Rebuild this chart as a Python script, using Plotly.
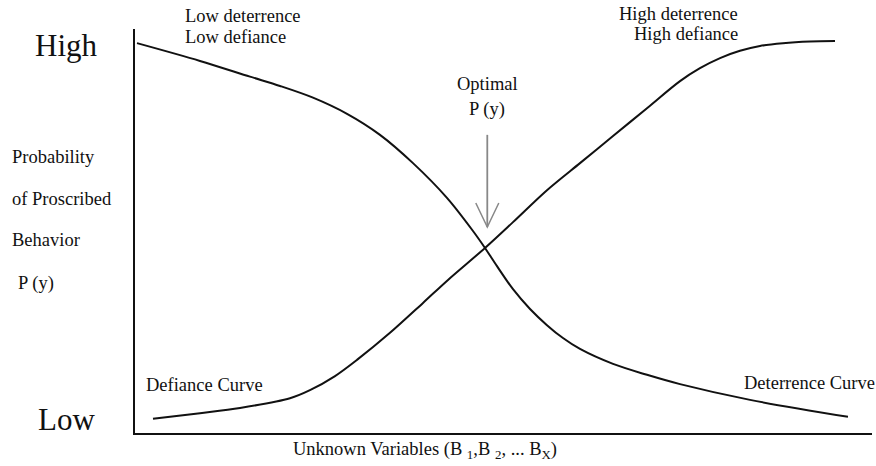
import plotly.graph_objects as go

# Data (x: unknown variables, 0-100; y: probability of proscribed behavior, 0-100)
deterrence_x = [0.27, 8.82, 15.60, 19.67, 24.15, 28.77, 33.24, 37.72, 42.33, 45.86, 47.49,
                49.12, 51.29, 53.60, 55.90, 58.07, 60.38, 64.86, 69.47, 73.95, 83.45, 96.74]
deterrence_y = [96.5, 92.1, 88.2, 85.9, 83.0, 79.0, 73.8, 66.8, 58.2, 50.0, 45.8,
                41.3, 35.6, 30.7, 26.7, 23.5, 20.8, 17.1, 14.4, 12.1, 8.2, 4.0]

defiance_x = [2.44, 8.82, 14.25, 21.03, 23.74, 27.14, 30.12, 34.60, 39.08, 42.47, 47.49,
              51.29, 55.90, 60.38, 64.86, 69.47, 73.95, 76.66, 79.38, 82.09, 84.80,
              87.92, 91.59, 94.98]
defiance_y = [3.5, 4.9, 6.2, 8.6, 10.6, 14.1, 18.1, 24.8, 32.2, 37.9, 45.8,
              52.2, 60.1, 66.8, 73.5, 80.4, 87.1, 90.3, 92.8, 94.6, 95.8,
              96.5, 96.9, 97.0]

optimal_x = 47.8
optimal_y = 51.0
optimal_tail_y = 73.8

W, H = 876, 466
ML, MR, MT, MB = 135, 4, 29, 33
PW, PH = W - ML - MR, H - MT - MB
XPX = PW / 100.0  # pixels per x unit
YPX = PH / 100.0  # pixels per y unit

def px(x):
    return (x - ML) / PW

def py(y):
    return (H - MB - y) / PH

FONT = "Liberation Serif, Times New Roman, serif"

fig = go.Figure()
for xs, ys in ((deterrence_x, deterrence_y), (defiance_x, defiance_y)):
    fig.add_trace(go.Scatter(x=xs, y=ys, mode="lines",
                             line=dict(color="#111111", width=2, shape="spline", smoothing=0.9),
                             hoverinfo="skip", showlegend=False))

ann = []
def txt(t, x, y, size=18.5, xanchor="left"):
    ann.append(dict(text=t, x=px(x), y=py(y), xref="paper", yref="paper",
                    showarrow=False, xanchor=xanchor, yanchor="middle",
                    font=dict(family=FONT, size=size, color="#111")))

txt("High", 66, 45, size=31, xanchor="center")
txt("Low", 66, 419, size=31, xanchor="center")
txt("Low deterrence", 183, 16)
txt("Low defiance", 183, 37)
txt("High deterrence", 740, 14, xanchor="right")
txt("High defiance", 740, 34, xanchor="right")
txt("Optimal", 487, 84, xanchor="center")
txt("P (y)", 487, 110, xanchor="center")
txt("Probability", 10, 157)
txt("of Proscribed", 10, 199)
txt("Behavior", 10, 240)
txt("P (y)", 16, 283)
txt("Defiance Curve", 144, 385)
txt("Deterrence Curve", 742, 383)
txt("Unknown Variables (B <sub>1</sub>,B <sub>2</sub>, ... B<sub>X</sub>)", 425, 450, xanchor="center")

# Optimal arrow: grey shaft with open V head
arm_dx = 11.5 / XPX
arm_dy = 24.0 / YPX
shapes = [
    dict(type="line", xref="x", yref="y", x0=optimal_x, x1=optimal_x,
         y0=optimal_tail_y, y1=optimal_y, line=dict(color="#888888", width=1.8)),
    dict(type="path", xref="x", yref="y",
         path=f"M {optimal_x - arm_dx},{optimal_y + arm_dy} L {optimal_x},{optimal_y} "
              f"L {optimal_x + arm_dx},{optimal_y + arm_dy}",
         line=dict(color="#888888", width=1.5)),
]

fig.update_layout(
    width=W, height=H,
    margin=dict(l=ML, r=MR, t=MT, b=MB, pad=0),
    paper_bgcolor="white", plot_bgcolor="white",
    annotations=ann, shapes=shapes,
    xaxis=dict(range=[0, 100], showgrid=False, zeroline=False, showticklabels=False,
               ticks="", showline=True, linecolor="#111", linewidth=2, fixedrange=True),
    yaxis=dict(range=[0, 100], showgrid=False, zeroline=False, showticklabels=False,
               ticks="", showline=True, linecolor="#111", linewidth=2, fixedrange=True),
)

fig.write_html("out.html", config={"displayModeBar": False},
               post_script="document.body.style.margin='0';")
